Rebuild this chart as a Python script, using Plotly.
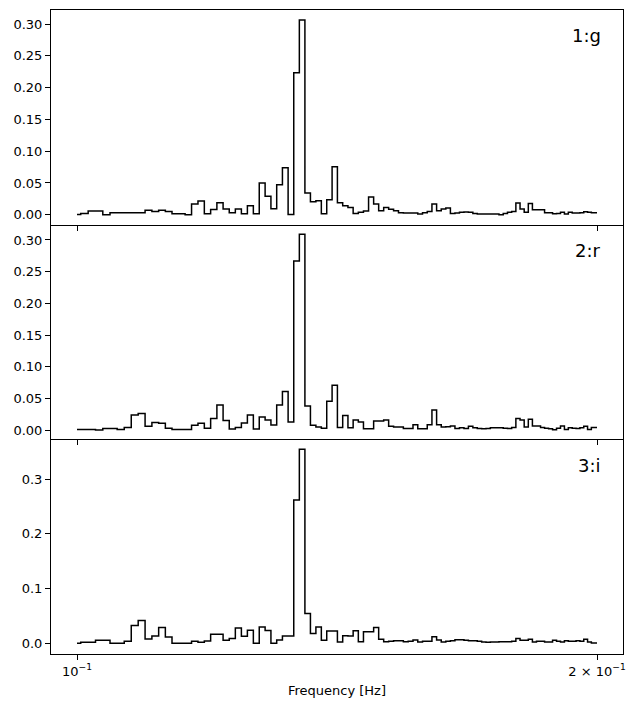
import plotly.graph_objects as go
from plotly.subplots import make_subplots

# Frequency grid [Hz]
freq = [
    0.100, 0.101, 0.102, 0.103, 0.104, 0.105, 0.106, 0.107, 0.108, 0.109,
    0.110, 0.111, 0.112, 0.113, 0.114, 0.115, 0.116, 0.117, 0.118, 0.119,
    0.120, 0.121, 0.122, 0.123, 0.124, 0.125, 0.126, 0.127, 0.128, 0.129,
    0.130, 0.131, 0.132, 0.133, 0.134, 0.135, 0.136, 0.137, 0.138, 0.139,
    0.140, 0.141, 0.142, 0.143, 0.144, 0.145, 0.146, 0.147, 0.148, 0.149,
    0.150, 0.151, 0.152, 0.153, 0.154, 0.155, 0.156, 0.157, 0.158, 0.159,
    0.160, 0.161, 0.162, 0.163, 0.164, 0.165, 0.166, 0.167, 0.168, 0.169,
    0.170, 0.171, 0.172, 0.173, 0.174, 0.175, 0.176, 0.177, 0.178, 0.179,
    0.180, 0.181, 0.182, 0.183, 0.184, 0.185, 0.186, 0.187, 0.188, 0.189,
    0.190, 0.191, 0.192, 0.193, 0.194, 0.195, 0.196, 0.197, 0.198, 0.199,
    0.200,
]

power_g = [
    0.0005, 0.002, 0.006, 0.006, 0.0, 0.003, 0.003, 0.003, 0.003, 0.003,
    0.007, 0.005, 0.007, 0.005, 0.0015, 0.0015, 0.0, 0.017, 0.0215, 0.0015,
    0.008, 0.019, 0.009, 0.003, 0.009, 0.0015, 0.014, 0.0015, 0.050, 0.029,
    0.0095, 0.047, 0.074, 0.0005, 0.2236, 0.3066, 0.034, 0.0205, 0.022, 0.0015,
    0.0236, 0.0756, 0.019, 0.014, 0.0115, 0.002, 0.0037, 0.0058, 0.028, 0.0168,
    0.0063, 0.0115, 0.0084, 0.0063, 0.003, 0.0026, 0.0026, 0.0026, 0.001, 0.003,
    0.0052, 0.0168, 0.0063, 0.0089, 0.0105, 0.002, 0.0026, 0.0037, 0.0042, 0.004,
    0.002, 0.001, 0.001, 0.001, 0.001, 0.001, 0.0, 0.002, 0.004, 0.005,
    0.0183, 0.009, 0.0037, 0.0178, 0.0079, 0.0079, 0.0079, 0.003, 0.003, 0.0016,
    0.002, 0.004, 0.001, 0.0037, 0.0026, 0.0026, 0.003, 0.0047, 0.0037, 0.003,
    0.003,
]

power_r = [
    0.001, 0.001, 0.001, 0.0, 0.0026, 0.0026, 0.001, 0.004, 0.0237, 0.026,
    0.0058, 0.012, 0.0105, 0.003, 0.001, 0.001, 0.001, 0.0074, 0.0105, 0.003,
    0.018, 0.0395, 0.015, 0.0016, 0.004, 0.011, 0.0237, 0.0016, 0.0205, 0.0158,
    0.0079, 0.0395, 0.061, 0.0126, 0.267, 0.309, 0.038, 0.0074, 0.0047, 0.003,
    0.0453, 0.0706, 0.004, 0.023, 0.0037, 0.0158, 0.0126, 0.002, 0.002, 0.0142,
    0.0142, 0.0158, 0.0058, 0.0047, 0.0047, 0.0026, 0.0026, 0.0084, 0.002, 0.002,
    0.0084, 0.0316, 0.0084, 0.0047, 0.0053, 0.0063, 0.0026, 0.0037, 0.0026, 0.0058,
    0.0037, 0.0026, 0.002, 0.0026, 0.0037, 0.0037, 0.0037, 0.003, 0.0026, 0.004,
    0.018, 0.0158, 0.0047, 0.0169, 0.0063, 0.0063, 0.004, 0.003, 0.002, 0.0005,
    0.003, 0.0063, 0.001, 0.0037, 0.003, 0.0026, 0.0037, 0.0058, 0.001, 0.004,
    0.004,
]

power_i = [
    0.0, 0.002, 0.002, 0.0055, 0.0055, 0.0, 0.0, 0.0036, 0.0327, 0.0418,
    0.0079, 0.0133, 0.029, 0.0115, 0.0, 0.0, 0.0, 0.0036, 0.0018, 0.0042,
    0.0164, 0.0164, 0.0055, 0.009, 0.0279, 0.0127, 0.024, 0.0, 0.0297, 0.0236,
    0.0, 0.006, 0.0133, 0.0133, 0.262, 0.3545, 0.0545, 0.018, 0.0297, 0.0055,
    0.0224, 0.0224, 0.0024, 0.014, 0.0133, 0.023, 0.003, 0.021, 0.021, 0.029,
    0.0073, 0.003, 0.004, 0.0048, 0.0048, 0.003, 0.004, 0.006, 0.0024, 0.0036,
    0.004, 0.012, 0.006, 0.0024, 0.0036, 0.0048, 0.0067, 0.0067, 0.0055, 0.0048,
    0.0048, 0.0036, 0.0024, 0.0018, 0.0024, 0.0024, 0.003, 0.003, 0.003, 0.0036,
    0.009, 0.0055, 0.0055, 0.0073, 0.0024, 0.004, 0.004, 0.0024, 0.0024, 0.0055,
    0.0036, 0.0024, 0.0048, 0.0036, 0.0036, 0.0048, 0.0036, 0.0073, 0.0024, 0.0006,
    0.0006,
]

band_labels = ["1:g", "2:r", "3:i"]
series = [power_g, power_r, power_i]
y_ranges = [[-0.0157, 0.3223], [-0.0147, 0.3242], [-0.0195, 0.3727]]
y_ticks = [[0.0, 0.05, 0.10, 0.15, 0.20, 0.25, 0.30],
           [0.0, 0.05, 0.10, 0.15, 0.20, 0.25, 0.30],
           [0.0, 0.1, 0.2, 0.3]]
y_fmt = [".2f", ".2f", ".1f"]
x_tickvals = [0.1, 0.2]
x_ticktext = ["10<sup>\u22121</sup>", "2 \u00d7 10<sup>\u22121</sup>"]

FONT = "DejaVu Sans"

fig = make_subplots(rows=3, cols=1, shared_xaxes=True, vertical_spacing=0)

for k, (vals, lab) in enumerate(zip(series, band_labels)):
    row = k + 1
    fig.add_trace(
        go.Scatter(x=freq, y=vals, mode="lines",
                   line=dict(shape="hvh", color="black", width=1.5),
                   showlegend=False, hoverinfo="skip"),
        row=row, col=1)
    fig.update_yaxes(range=y_ranges[k], tickvals=y_ticks[k], tickformat=y_fmt[k],
                     ticks="outside", ticklen=5, tickwidth=1, tickcolor="black",
                     showline=True, mirror=True, linecolor="black", linewidth=1,
                     showgrid=False, zeroline=False,
                     tickfont=dict(family=FONT, size=13, color="black"),
                     row=row, col=1)
    fig.update_xaxes(type="log", range=[-1.01505, -0.68392],
                     tickvals=x_tickvals, ticktext=x_ticktext,
                     ticks="outside", ticklen=5, tickwidth=1, tickcolor="black",
                     showline=True, mirror=(row == 1), linecolor="black", linewidth=1,
                     showgrid=False, zeroline=False,
                     showticklabels=(row == 3),
                     tickfont=dict(family=FONT, size=13, color="black"),
                     row=row, col=1)
    xd = "x domain" if row == 1 else f"x{row} domain"
    yd = "y domain" if row == 1 else f"y{row} domain"
    fig.add_annotation(text=lab, xref=xd, yref=yd, x=0.965, y=0.879,
                       xanchor="right", yanchor="middle", showarrow=False,
                       font=dict(family=FONT, size=18, color="black"))

fig.update_xaxes(title=dict(text="Frequency [Hz]", standoff=8,
                            font=dict(family=FONT, size=13, color="black")),
                 row=3, col=1)

fig.update_layout(width=635, height=709,
                  margin=dict(l=51, r=10, t=9, b=55),
                  paper_bgcolor="white", plot_bgcolor="white",
                  font=dict(family=FONT, size=13, color="black"))

fig.write_html("out.html")
